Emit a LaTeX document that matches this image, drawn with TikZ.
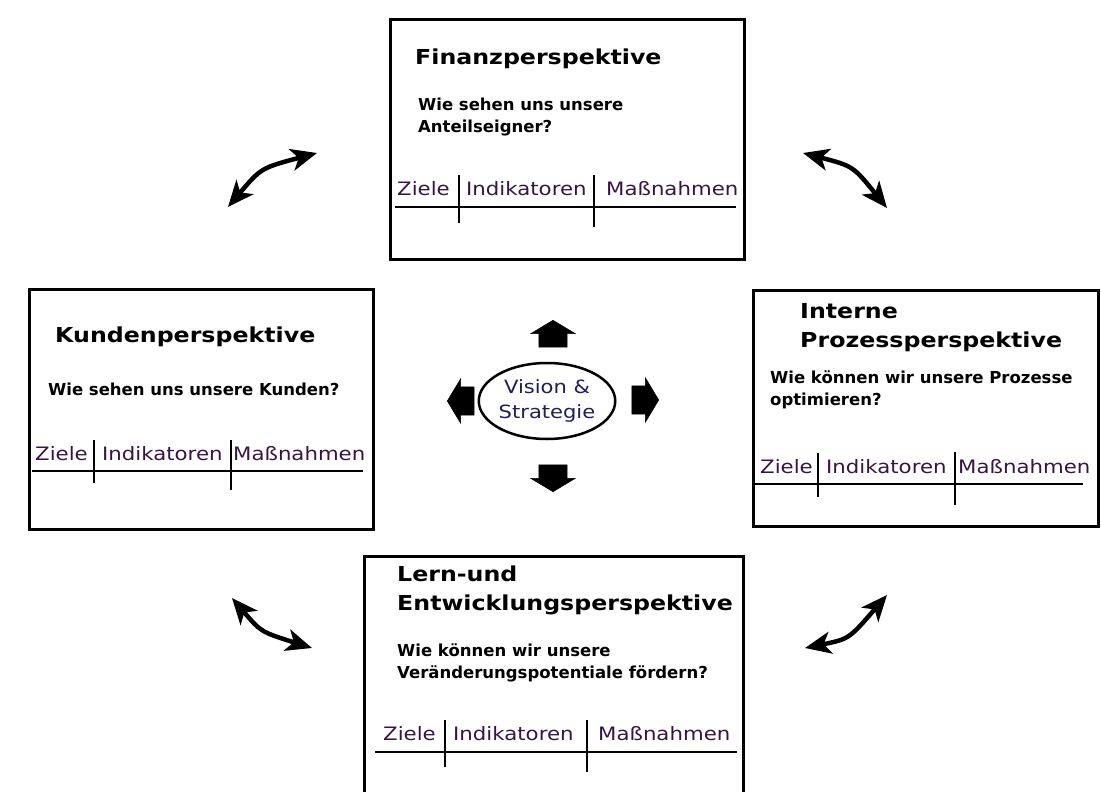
\documentclass[tikz,border=0pt]{standalone}
\usepackage{fontspec}
\setmainfont{DejaVu Sans}
\newfontfamily\breit[FakeStretch=1.15]{DejaVu Sans}
\usetikzlibrary{arrows.meta,shapes.geometric,shapes.arrows}
\definecolor{tabtext}{RGB}{55,20,65}
\definecolor{vistext}{RGB}{30,30,90}
\tikzset{
  perspbox/.style = {draw, line width=3pt, inner sep=0, anchor=north west},
  titel/.style = {anchor=base west, inner sep=0, align=left,
    font=\breit\bfseries\fontsize{20.6}{28.5}\selectfont},
  frage/.style = {anchor=base west, inner sep=0, align=left,
    font=\bfseries\fontsize{16.5}{21.5}\selectfont},
  spalte/.style = {anchor=base west, inner sep=0, text=tabtext,
    font=\breit\fontsize{18.5}{22}\selectfont},
  strich/.style = {line width=1.3pt},
  blockpfeil/.style = {single arrow, fill, draw,
    minimum height=27pt, single arrow head extend=8pt, single arrow tip angle=118},
  waag/.style = {blockpfeil, inner xsep=0, inner ysep=14pt},
  senk/.style = {blockpfeil, inner xsep=14pt, inner ysep=0},
  wechsel/.style = {line width=4.5pt,
    {Stealth[length=26pt,width=22pt,inset=7pt]}-{Stealth[length=26pt,width=22pt,inset=7pt]}}
}

\begin{document}
\begin{tikzpicture}[x=1pt,y=-1pt]
  \useasboundingbox (0,0) rectangle (1101,792);
  % Finanzperspektive
  \node[perspbox, minimum width=354, minimum height=240] (finanz) at (389,18) {};
  \node[titel] (finanzT) at (415,65) {Finanzperspektive};
  \node[frage] (finanzF) at (418,132) {Wie sehen uns unsere\\Anteilseigner?};
  \node[spalte] (finanzZ) at (397,195) {Ziele};
  \node[spalte] (finanzI) at (466,195) {Indikatoren};
  \node[spalte] (finanzM) at (606,195) {Maßnahmen};
  \draw[strich] (395,207) -- (736,207);
  \draw[strich] (459,175) -- (459,223);
  \draw[strich] (594,175) -- (594,227);
  % Kundenperspektive
  \node[perspbox, minimum width=344, minimum height=240] (kunden) at (28,288) {};
  \node[titel] (kundenT) at (55,342) {Kundenperspektive};
  \node[frage] (kundenF) at (48,395) {Wie sehen uns unsere Kunden?};
  \node[spalte] (kundenZ) at (35,460) {Ziele};
  \node[spalte] (kundenI) at (102,460) {Indikatoren};
  \node[spalte] (kundenM) at (233,460) {Maßnahmen};
  \draw[strich] (32,471) -- (363,471);
  \draw[strich] (94,440) -- (94,483);
  \draw[strich] (231,440) -- (231,490);
  % Interne Prozessperspektive
  \node[perspbox, minimum width=345, minimum height=236] (prozess) at (752,289) {};
  \node[titel] (prozessT) at (800,347) {Interne\\Prozessperspektive};
  \node[frage] (prozessF) at (770,405) {Wie können wir unsere Prozesse\\optimieren?};
  \node[spalte] (prozessZ) at (760,473) {Ziele};
  \node[spalte] (prozessI) at (826,473) {Indikatoren};
  \node[spalte] (prozessM) at (958,473) {Maßnahmen};
  \draw[strich] (755,484) -- (1083,484);
  \draw[strich] (818,453) -- (818,497);
  \draw[strich] (955,452) -- (955,505);
  % Lern- und Entwicklungsperspektive
  \node[perspbox, minimum width=379, minimum height=250] (lernen) at (363,555) {};
  \node[titel] (lernenT) at (397,610) {Lern-und\\Entwicklungsperspektive};
  \node[frage] (lernenF) at (397,678) {Wie können wir unsere\\Veränderungspotentiale fördern?};
  \node[spalte] (lernenZ) at (383,740) {Ziele};
  \node[spalte] (lernenI) at (453,740) {Indikatoren};
  \node[spalte] (lernenM) at (598,740) {Maßnahmen};
  \draw[strich] (375,752) -- (737,752);
  \draw[strich] (445,720) -- (445,767);
  \draw[strich] (587,720) -- (587,772);
  % Vision & Strategie
  \node[ellipse, draw, line width=2.5pt, minimum width=128, minimum height=76,
    inner sep=0, align=center, text=vistext, font=\breit\fontsize{18.3}{25}\selectfont]
    (vision) at (547,401) {Vision \&\\Strategie};
  \node[senk, shape border rotate=90] (hoch) at (553,338) {};
  \node[senk, shape border rotate=270] (runter) at (553,474) {};
  \node[waag, shape border rotate=180] (links) at (465,401) {};
  \node[waag, shape border rotate=0] (rechts) at (641,400) {};
  % Wechselwirkungen
  \coordinate (ol1) at (228,207);
  \coordinate (ol2) at (317,153);
  \coordinate (or1) at (803,153);
  \coordinate (or2) at (887,208);
  \coordinate (ul1) at (232,598);
  \coordinate (ul2) at (312,648);
  \coordinate (ur1) at (805,648);
  \coordinate (ur2) at (887,595);
  \draw[wechsel] (ol1) .. controls (261,168) .. (ol2);
  \draw[wechsel] (or1) .. controls (853,166) .. (or2);
  \draw[wechsel] (ul1) .. controls (261,632) .. (ul2);
  \draw[wechsel] (ur1) .. controls (849,639) .. (ur2);
\end{tikzpicture}
\end{document}
